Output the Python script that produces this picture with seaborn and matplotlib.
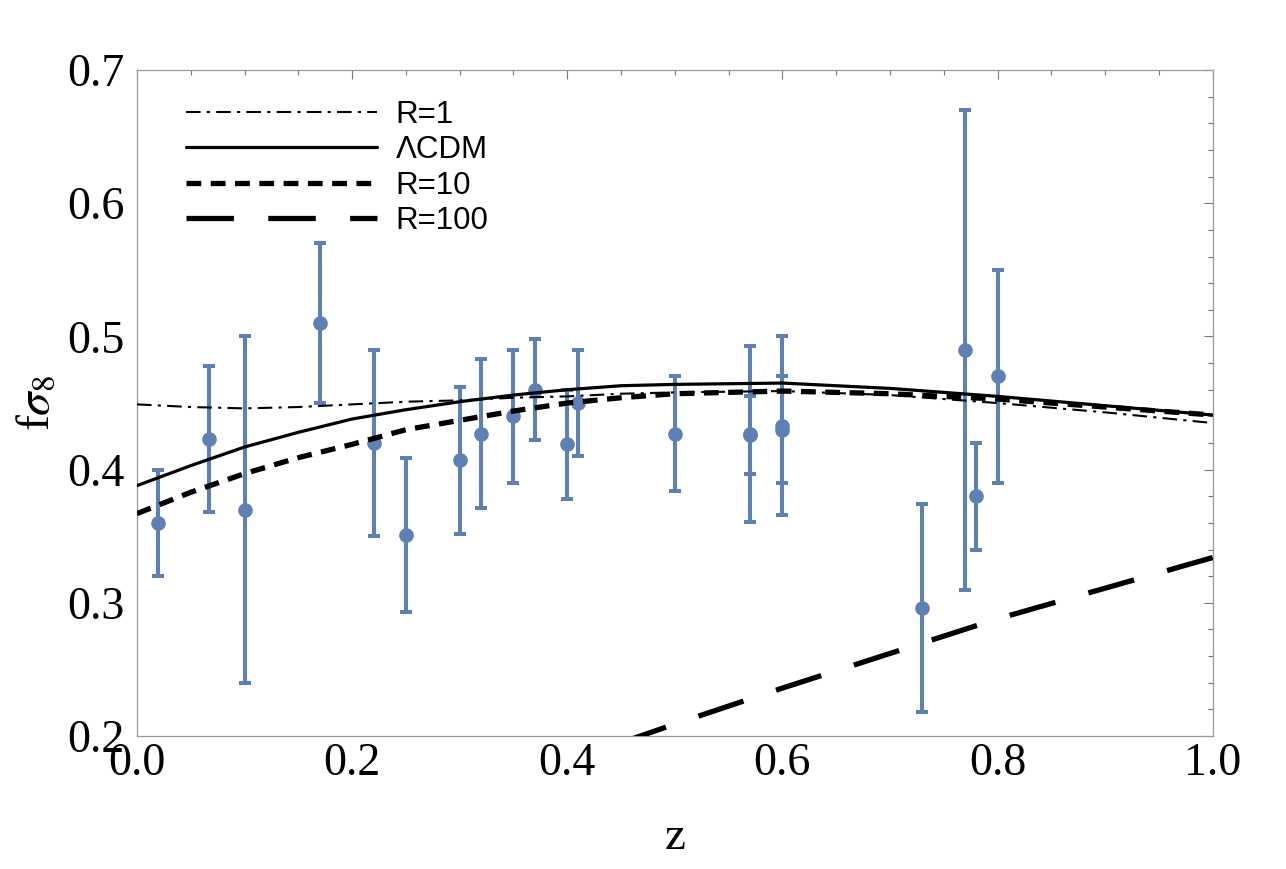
import numpy as np
import pandas as pd
import matplotlib
matplotlib.use("Agg")
import matplotlib.pyplot as plt
import seaborn as sns
from matplotlib.ticker import MultipleLocator

# measurements (z, f sigma8, error)
z_obs = [0.02, 0.067, 0.10, 0.17, 0.22, 0.25, 0.30, 0.32, 0.35, 0.37, 0.40,
         0.41, 0.50, 0.57, 0.57, 0.60, 0.60, 0.73, 0.77, 0.78, 0.80]
fs8_obs = [0.360, 0.423, 0.370, 0.510, 0.420, 0.351, 0.407, 0.427, 0.440, 0.460, 0.419,
           0.450, 0.427, 0.427, 0.426, 0.433, 0.430, 0.296, 0.490, 0.380, 0.470]
err_obs = [0.040, 0.055, 0.130, 0.060, 0.070, 0.058, 0.055, 0.056, 0.050, 0.038, 0.041,
           0.040, 0.043, 0.066, 0.029, 0.067, 0.040, 0.078, 0.180, 0.040, 0.080]

# model curves
z_model = [0.0, 0.05, 0.1, 0.15, 0.2, 0.25, 0.3, 0.35, 0.4, 0.45, 0.5,
           0.6, 0.7, 0.8, 0.9, 1.0]
fs8_r1 = [0.449, 0.447, 0.446, 0.447, 0.449, 0.451, 0.452, 0.454, 0.455, 0.457, 0.458,
          0.459, 0.456, 0.450, 0.443, 0.435]
fs8_lcdm = [0.388, 0.403, 0.417, 0.428, 0.438, 0.445, 0.451, 0.456, 0.460, 0.463, 0.464,
            0.465, 0.461, 0.455, 0.448, 0.441]
fs8_r10 = [0.367, 0.383, 0.397, 0.409, 0.419, 0.430, 0.437, 0.444, 0.450, 0.454, 0.457,
           0.459, 0.457, 0.453, 0.447, 0.441]
z_r100 = [0.45, 0.5, 0.6, 0.7, 0.8, 0.9, 1.0]
fs8_r100 = [0.195, 0.209, 0.236, 0.262, 0.288, 0.311, 0.334]

sns.set_theme(style="white")
plt.rcParams["font.family"] = ["Liberation Serif", "DejaVu Serif"]
plt.rcParams["mathtext.fontset"] = "stix"
plt.rcParams["text.color"] = "black"
plt.rcParams["axes.labelcolor"] = "black"

fig = plt.figure(figsize=(12.86, 8.69), dpi=100)
ax = fig.add_axes([0.1065, 0.153, 0.8365, 0.7664])

blue = "#5E81B5"
ax.errorbar(z_obs, fs8_obs, yerr=err_obs, fmt="o", color=blue, ms=9.5,
            elinewidth=2.9, capsize=4.5, capthick=2.9, zorder=2)

curves = pd.DataFrame({"z": z_model, "r1": fs8_r1, "lcdm": fs8_lcdm, "r10": fs8_r10})
sns.lineplot(data=curves, x="z", y="r1", ax=ax, color="black", lw=1.5,
             linestyle=(0, (7, 3, 1.5, 3)), label="R=1", zorder=3)
sns.lineplot(data=curves, x="z", y="lcdm", ax=ax, color="black", lw=2.3,
             linestyle="-", label="ΛCDM", zorder=3)
sns.lineplot(data=curves, x="z", y="r10", ax=ax, color="black", lw=3.8,
             linestyle=(0, (2.8, 1.8)), label="R=10", zorder=3)
sns.lineplot(x=z_r100, y=fs8_r100, ax=ax, color="black", lw=3.8,
             linestyle=(0, (9, 6.5)), label="R=100", zorder=3)

ax.set_xlim(0, 1.0)
ax.set_ylim(0.2, 0.7)
ax.xaxis.set_major_locator(MultipleLocator(0.2))
ax.xaxis.set_minor_locator(MultipleLocator(0.05))
ax.yaxis.set_major_locator(MultipleLocator(0.1))
ax.yaxis.set_minor_locator(MultipleLocator(0.02))
ax.xaxis.set_major_formatter(matplotlib.ticker.FormatStrFormatter("%.1f"))
ax.yaxis.set_major_formatter(matplotlib.ticker.FormatStrFormatter("%.1f"))

for s in ax.spines.values():
    s.set_color("#999999")
    s.set_linewidth(0.9)
ax.tick_params(which="both", direction="in", top=True, right=True,
               color="#777777", width=0.8, labelsize=33, labelcolor="black")
ax.tick_params(which="major", length=6.5)
ax.tick_params(which="minor", length=3.5)
ax.tick_params(axis="x", pad=5)
ax.tick_params(axis="y", pad=9)

ax.set_xlabel("z", fontsize=34, labelpad=22, color="black")
ax.set_ylabel(r"f$\sigma_8$", fontsize=34, labelpad=6, color="black")

leg = ax.legend(loc="upper left", bbox_to_anchor=(0.046, 0.955), frameon=False,
                prop={"family": "Liberation Sans", "size": 22.5},
                handlelength=6.1, handletextpad=0.6, labelspacing=0.17,
                borderpad=0, borderaxespad=0)
for t in leg.get_texts():
    t.set_color("black")

fig.savefig("out.png", dpi=100)
